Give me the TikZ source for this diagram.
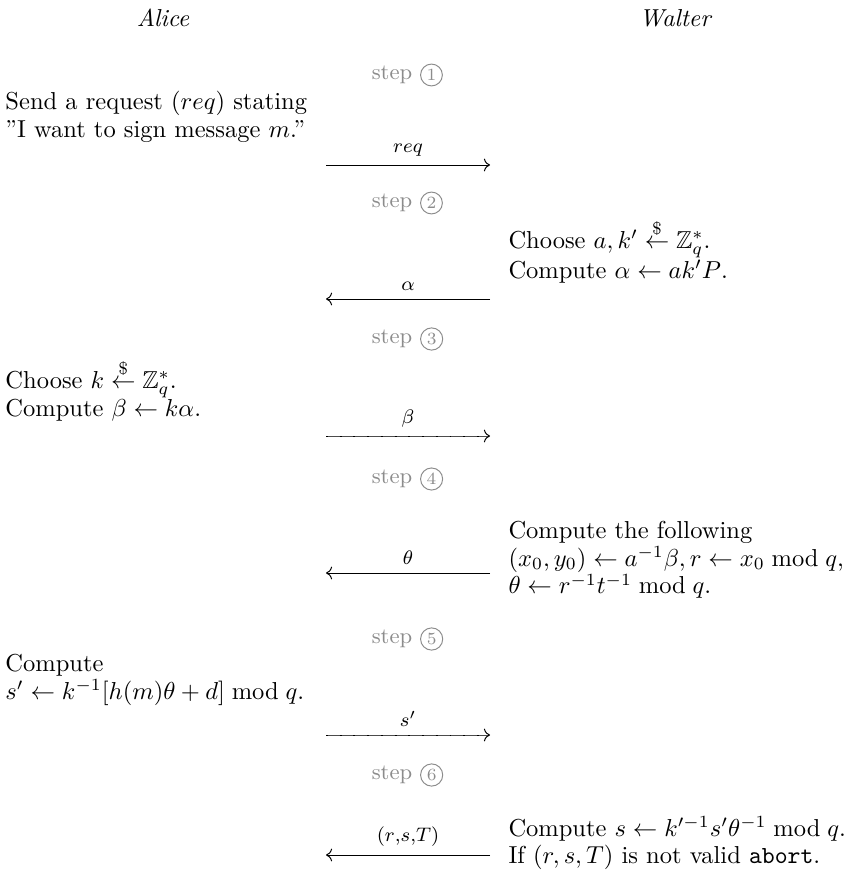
\documentclass[tikz,border=0pt]{standalone}
\usepackage{amsmath}
\usepackage{amssymb}
\usetikzlibrary{arrows.meta, positioning}
\newcommand{\sample}{\overset{\$}{\leftarrow}}

\begin{document}
\begin{tikzpicture}[x=0.408pt, y=-0.408pt, party/.style={font=\itshape}, note/.style={align=left, anchor=west, inner sep=0pt, font=\fontsize{10}{11.3}\selectfont}, stepnote/.style={text=black!45, font=\small, inner sep=1pt}, stepnum/.style={draw=black!45, text=black!45, circle, inner sep=1pt, font=\scriptsize}, msg/.style={-{To[color=black]}, thin}, blindmsg/.style={msg, draw=black!70, postaction={draw=black, -, dash pattern=on 0.8pt off 4.8pt}}, lbl/.style={above, font=\footnotesize}]
\useasboundingbox (0,0) rectangle (847,880);
\node[party] (alice) at (163,18) {Alice};
\node[party] (walter) at (675,18) {Walter};
% steps
\node[stepnote] (st1) at (392,75) {step}; \node[stepnum, right=2pt of st1] (n1) {1};
\node[stepnote] (st2) at (392,203) {step}; \node[stepnum, right=2pt of st2] (n2) {2};
\node[stepnote] (st3) at (392,339) {step}; \node[stepnum, right=2pt of st3] (n3) {3};
\node[stepnote] (st4) at (392,479) {step}; \node[stepnum, right=2pt of st4] (n4) {4};
\node[stepnote] (st5) at (392,639) {step}; \node[stepnum, right=2pt of st5] (n5) {5};
\node[stepnote] (st6) at (392,775) {step}; \node[stepnum, right=2pt of st6] (n6) {6};
% what each side computes
\node[note] (request) at (5,117) {Send a request ($req$) stating\\''I want to sign message $m$.''};
\node[note] (choose) at (508,251) {Choose $a,k'\sample\mathbb{Z}_q^*$.\\Compute $\alpha\leftarrow ak'P$.};
\node[note] (blind) at (5,390) {Choose $k\sample\mathbb{Z}_q^*$.\\Compute $\beta\leftarrow k\alpha$.};
\node[note] (theta) at (508,560) {Compute the following\\$(x_0,y_0)\leftarrow a^{-1}\beta, r\leftarrow x_0 \bmod q$,\\$\theta\leftarrow r^{-1}t^{-1}\bmod q$.};
\node[note] (sprime) at (5,680) {Compute\\$s'\leftarrow k^{-1}[h(m)\theta+d]\bmod q$.};
\node[note] (sig) at (508,843) {Compute $s\leftarrow k'^{-1}s'\theta^{-1}\bmod q$.\\If $(r,s,T)$ is not valid \texttt{abort}.};
% messages
\coordinate (a1) at (326,165); \coordinate (w1) at (490,165);
\coordinate (a2) at (326,299); \coordinate (w2) at (490,299);
\coordinate (a3) at (326,436); \coordinate (w3) at (490,436);
\coordinate (a4) at (326,573); \coordinate (w4) at (490,573);
\coordinate (a5) at (326,735); \coordinate (w5) at (490,735);
\coordinate (a6) at (326,855); \coordinate (w6) at (490,855);
\draw[msg] (a1) -- node[lbl]{$req$} (w1);
\draw[msg] (w2) -- node[lbl]{$\alpha$} (a2);
\draw[blindmsg] (a3) -- node[lbl]{$\beta$} (w3);
\draw[msg] (w4) -- node[lbl]{$\theta$} (a4);
\draw[blindmsg] (a5) -- node[lbl]{$s'$} (w5);
\draw[msg] (w6) -- node[lbl]{$(r{,}s{,}T)$} (a6);
\end{tikzpicture}
\end{document}
